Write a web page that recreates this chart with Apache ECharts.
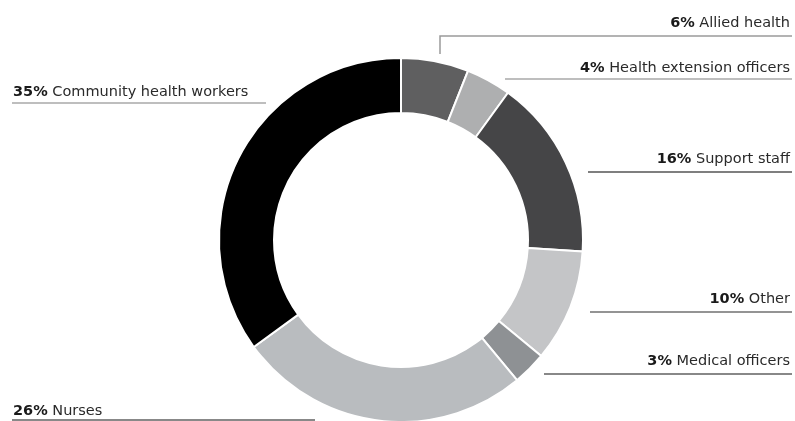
<!DOCTYPE html>
<html>
<head>
<meta charset="utf-8">
<script src="https://cdn.jsdelivr.net/npm/echarts@6/dist/echarts.min.js"></script>
<style>
html,body{margin:0;padding:0;background:#fff;}
#chart{width:795px;height:421px;}
</style>
</head>
<body>
<div id="chart"></div>
<script>
// Data
const categories = ["Allied health", "Health extension officers", "Support staff", "Other", "Medical officers", "Nurses", "Community health workers"];
const shares = [6, 4, 16, 10, 3, 26, 35];

// Styles
const sliceColors = ["#5f5f60", "#aeafb0", "#454547", "#c4c5c7", "#8e9194", "#b9bcbf", "#000000"];
const lineColors = ["#9a9a9a", "#a8a8a8", "#555555", "#707070", "#606060", "#606060", "#a8a8a8"];
// label placements (text anchor + leader line points)
const labelPlaces = [
  {x: 790, y: 23, align: "right", pts: [[440, 54], [440, 36], [792, 36]]},
  {x: 790, y: 68, align: "right", pts: [[505, 79], [505, 79], [792, 79]]},
  {x: 790, y: 159, align: "right", pts: [[588, 172], [588, 172], [792, 172]]},
  {x: 790, y: 299, align: "right", pts: [[590, 312], [590, 312], [792, 312]]},
  {x: 790, y: 361, align: "right", pts: [[544, 374], [544, 374], [792, 374]]},
  {x: 13, y: 411, align: "left", pts: [[315, 420], [315, 420], [12, 420]]},
  {x: 13, y: 92, align: "left", pts: [[266, 103], [266, 103], [12, 103]]}
];

const chart = echarts.init(document.getElementById('chart'), null, {renderer: 'canvas'});
const seriesData = categories.map((name, i) => ({
  name: name,
  value: shares[i],
  itemStyle: {color: sliceColors[i]},
  labelLine: {lineStyle: {color: lineColors[i], width: 1.5}}
}));

chart.setOption({
  animation: false,
  backgroundColor: '#ffffff',
  series: [{
    type: 'pie',
    center: [401, 240],
    radius: [127, 182],
    startAngle: 90,
    clockwise: true,
    avoidLabelOverlap: false,
    itemStyle: {borderColor: '#ffffff', borderWidth: 2},
    label: {
      show: true,
      position: 'outside',
      fontFamily: 'DejaVu Sans',
      fontSize: 14.5,
      color: '#1a1a1a',
      formatter: function (p) {
        return '{p|' + shares[p.dataIndex] + '%} {n|' + categories[p.dataIndex] + '}';
      },
      rich: {
        p: {fontWeight: 'bold', fontFamily: 'DejaVu Sans', fontSize: 14.5, color: '#1a1a1a'},
        n: {fontFamily: 'DejaVu Sans', fontSize: 14.5, color: '#2a2a2a'}
      }
    },
    labelLine: {show: true, smooth: false},
    labelLayout: function (params) {
      const L = labelPlaces[params.dataIndex];
      return {
        x: L.x,
        y: L.y,
        align: L.align,
        verticalAlign: 'middle',
        labelLinePoints: L.pts
      };
    },
    data: seriesData
  }]
});
</script>
</body>
</html>
